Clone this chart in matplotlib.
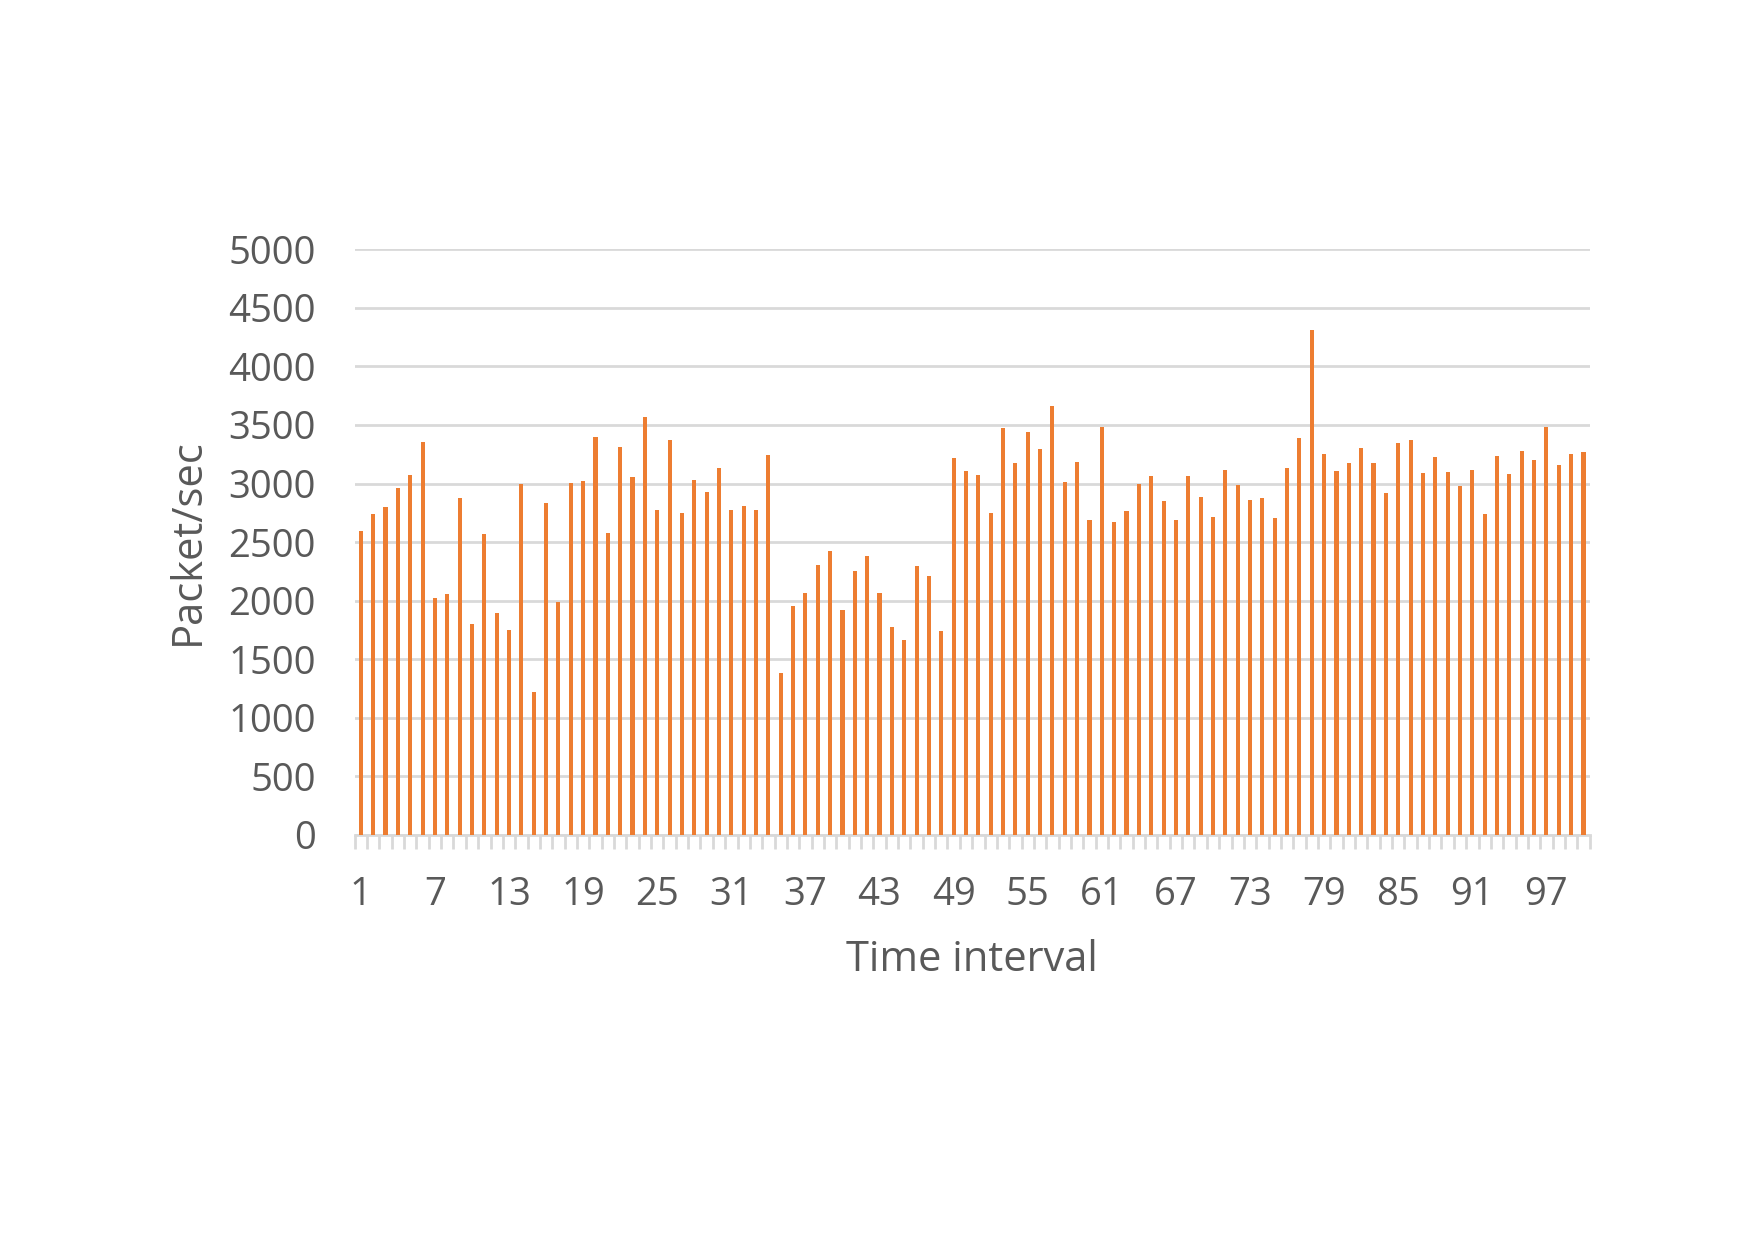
import numpy as np
import matplotlib.pyplot as plt

plt.rcParams['font.family'] = ['Open Sans', 'DejaVu Sans']

# packets per second for each time interval
intervals = np.arange(1, 101)
packets = [
    2590, 2737, 2795, 2960, 3073, 3352, 2023, 2054, 2874, 1800,
    2565, 1892, 1745, 2994, 1218, 2835, 1984, 3006, 3024, 3395,
    2574, 3309, 3052, 3572, 2770, 3376, 2746, 3027, 2929, 3135,
    2773, 2804, 2770, 3245, 1384, 1956, 2063, 2305, 2421, 1919,
    2256, 2381, 2063, 1775, 1665, 2293, 2210, 1742, 3214, 3107,
    3070, 2749, 3471, 3174, 3441, 3291, 3664, 3009, 3183, 2688,
    3487, 2669, 2764, 3000, 3061, 2847, 2685, 3061, 2883, 2712,
    3119, 2988, 2859, 2874, 2703, 3135, 3392, 4310, 3251, 3110,
    3174, 3306, 3177, 2920, 3346, 3373, 3092, 3226, 3095, 2978,
    3113, 2737, 3235, 3082, 3275, 3205, 3480, 3159, 3254, 3269,
]
y_ticks = np.arange(0, 5001, 500)
x_labels = intervals[::6]

text_color = '#595959'
grid_color = '#d9d9d9'

fig = plt.figure(figsize=(17.54, 12.4), dpi=100)
ax = fig.add_axes([0.2022, 0.327, 0.7041, 0.4718])

ax.bar(intervals, packets, width=0.33, color='#ed7d31', zorder=3)

ax.set_xlim(0.5, 100.5)
ax.set_ylim(0, 5000)
ax.set_yticks(y_ticks)
ax.yaxis.grid(True, color=grid_color, linewidth=2.0, zorder=0)
ax.tick_params(axis='y', length=0, pad=28, labelsize=27.5, labelcolor=text_color)

# category labels every 6th interval, tick marks on category boundaries
ax.set_xticks(x_labels)
ax.set_xticklabels([str(v) for v in x_labels])
ax.tick_params(axis='x', which='major', length=0, pad=30, labelsize=27.5, labelcolor=text_color)
ax.set_xticks(np.arange(0.5, 101, 1), minor=True)
ax.tick_params(axis='x', which='minor', length=10, width=2, color=grid_color, direction='out')

for side in ['top', 'right', 'left']:
    ax.spines[side].set_visible(False)
ax.spines['bottom'].set_color(grid_color)
ax.spines['bottom'].set_linewidth(2.0)

ax.set_xlabel('Time interval', fontsize=30, color=text_color, labelpad=18)
ax.set_ylabel('Packet/sec', fontsize=30, color=text_color, labelpad=14)

fig.savefig('out.png', dpi=100, facecolor='white')
